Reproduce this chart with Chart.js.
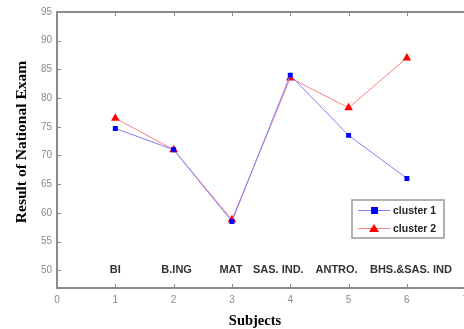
<!DOCTYPE html>
<html lang="en">
  <head>
    <meta charset="UTF-8" />
    <title>Result of National Exam</title>
    <style>
      * { margin: 0; padding: 0; box-sizing: border-box; }
      html, body { width: 464px; height: 329px; overflow: hidden; background: #fff; }
      canvas { display: block; }
    </style>
  </head>
  <body>
    <canvas id="chart" width="474" height="329"></canvas>

    <script src="https://cdn.jsdelivr.net/npm/chart.js"></script>
    <script>
      const subjects = ["BI", "B.ING", "MAT", "SAS. IND.", "ANTRO.", "BHS.&SAS. IND"];
      const positions = [1, 2, 3, 4, 5, 6];
      const cluster1 = [74.7, 71, 58.5, 84, 73.5, 66];
      const cluster2 = [76.5, 71, 58.8, 83.5, 78.3, 87];
      const yTicks = [50, 55, 60, 65, 70, 75, 80, 85, 90, 95];
      const xTicks = [0, 1, 2, 3, 4, 5, 6, 7];

      const axisGray = "#8c8c8c";
      const tickGray = "#8a8a8a";
      // small horizontal nudges of the subject names, as in the original figure
      const labelNudge = [0, 3, -1, -12, -12, 4];

      const toPoints = (vals) => vals.map((v, i) => ({ x: positions[i], y: v }));

      // axes box, inward ticks, subject names, titles and legend
      const decor = {
        id: "decor",
        afterDraw(chart) {
          const { ctx, chartArea: a, scales } = chart;
          const xs = scales.x, ys = scales.y;
          ctx.save();
          ctx.strokeStyle = axisGray;
          ctx.lineWidth = 2;
          ctx.strokeRect(a.left, a.top, a.right - a.left, a.bottom - a.top);

          ctx.lineWidth = 1;
          ctx.beginPath();
          xTicks.forEach((t) => {
            const px = Math.round(xs.getPixelForValue(t)) + 0.5;
            ctx.moveTo(px, a.bottom); ctx.lineTo(px, a.bottom - 4);
            ctx.moveTo(px, a.top); ctx.lineTo(px, a.top + 4);
          });
          yTicks.forEach((t) => {
            const py = Math.round(ys.getPixelForValue(t)) + 0.5;
            ctx.moveTo(a.left, py); ctx.lineTo(a.left + 4, py);
          });
          ctx.stroke();

          ctx.fillStyle = "#333";
          ctx.font = "bold 11px 'Liberation Sans', Arial, sans-serif";
          ctx.textAlign = "center";
          ctx.textBaseline = "middle";
          subjects.forEach((s, i) => {
            ctx.fillText(s, xs.getPixelForValue(positions[i]) + labelNudge[i], ys.getPixelForValue(50));
          });

          // axis titles
          ctx.fillStyle = "#000";
          ctx.font = "bold 14.5px 'Liberation Serif', serif";
          ctx.fillText("Subjects", 255, 321);
          ctx.save();
          ctx.translate(22, 142);
          ctx.rotate(-Math.PI / 2);
          ctx.font = "bold 15.5px 'Liberation Serif', serif";
          ctx.fillText("Result of National Exam", 0, 0);
          ctx.restore();

          // legend
          const lx = 352, ly = 200, lw = 92, lh = 38;
          ctx.fillStyle = "#fff";
          ctx.fillRect(lx, ly, lw, lh);
          ctx.strokeStyle = "#999";
          ctx.lineWidth = 1.5;
          ctx.strokeRect(lx, ly, lw, lh);
          const rows = [
            { label: "cluster 1", line: "#7f7fff", color: "#0000ff", shape: "rect" },
            { label: "cluster 2", line: "#ff7f7f", color: "#ff0000", shape: "tri" }
          ];
          rows.forEach((r, i) => {
            const y = ly + 10 + i * 18;
            ctx.strokeStyle = r.line;
            ctx.lineWidth = 1;
            ctx.beginPath();
            ctx.moveTo(lx + 6, y + 0.5); ctx.lineTo(lx + 38, y + 0.5);
            ctx.stroke();
            ctx.fillStyle = r.color;
            const cx = lx + 22;
            if (r.shape === "rect") {
              ctx.fillRect(cx - 3, y - 3, 7, 7);
            } else {
              ctx.beginPath();
              ctx.moveTo(cx, y - 4); ctx.lineTo(cx + 5, y + 4); ctx.lineTo(cx - 5, y + 4);
              ctx.closePath(); ctx.fill();
            }
            ctx.fillStyle = "#222";
            ctx.font = "bold 10.5px 'Liberation Sans', Arial, sans-serif";
            ctx.textAlign = "left";
            ctx.fillText(r.label, lx + 41, y + 1);
          });
          ctx.restore();
        }
      };

      new Chart(document.getElementById("chart"), {
        type: "line",
        data: {
          datasets: [
            {
              label: "cluster 1",
              data: toPoints(cluster1),
              borderColor: "#7f7fff",
              borderWidth: 1,
              pointStyle: "rect",
              pointRadius: 3.5,
              pointBackgroundColor: "#0000ff",
              pointBorderColor: "#0000ff",
              pointBorderWidth: 0
            },
            {
              label: "cluster 2",
              data: toPoints(cluster2),
              borderColor: "#ff7f7f",
              borderWidth: 1,
              pointStyle: "triangle",
              pointRadius: 5,
              pointBackgroundColor: "#ff0000",
              pointBorderColor: "#ff0000",
              pointBorderWidth: 0
            }
          ]
        },
        options: {
          responsive: false,
          animation: false,
          layout: { padding: { top: 12, left: 0, right: 0, bottom: 0 } },
          plugins: { legend: { display: false }, tooltip: { enabled: false } },
          scales: {
            x: {
              type: "linear",
              min: 0,
              max: 7,
              afterBuildTicks: (s) => { s.ticks = xTicks.map((v) => ({ value: v })); },
              afterFit: (s) => { s.height = 41; },
              grid: { display: false, drawTicks: false },
              border: { display: false },
              ticks: {
                autoSkip: false,
                maxRotation: 0,
                padding: 6,
                color: tickGray,
                font: { family: "'Liberation Sans', Arial", size: 10 }
              }
            },
            y: {
              min: 46.9,
              max: 95,
              afterBuildTicks: (s) => { s.ticks = yTicks.map((v) => ({ value: v })); },
              afterFit: (s) => { s.width = 57; },
              grid: { display: false, drawTicks: false },
              border: { display: false },
              ticks: {
                autoSkip: false,
                padding: 5,
                color: tickGray,
                font: { family: "'Liberation Sans', Arial", size: 10 }
              }
            }
          }
        },
        plugins: [decor]
      });
    </script>
  </body>
</html>
